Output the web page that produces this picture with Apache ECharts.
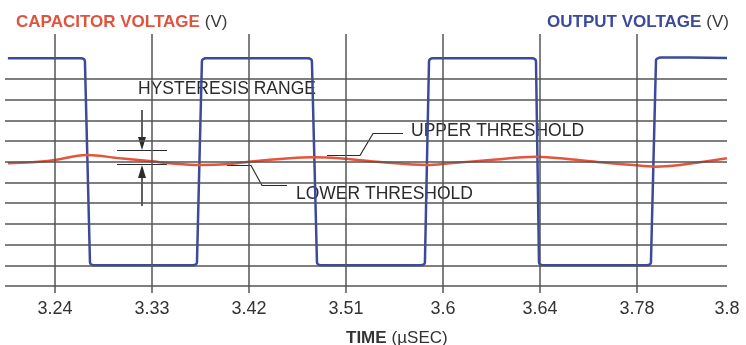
<!DOCTYPE html>
<html><head><meta charset="utf-8">
<script src="https://cdn.jsdelivr.net/npm/echarts@6/dist/echarts.min.js"></script>
<style>html,body{margin:0;padding:0;background:#fff}#c{width:746px;height:345px}</style>
</head><body><div id="c"></div>
<script>
// tick positions (index units) and labels
const tickPositions = [0, 1, 2, 3, 4, 5, 6, 6.928];
const tickLabels = ['3.24', '3.33', '3.42', '3.51', '3.6', '3.64', '3.78', '3.8'];
const gridLinePositions = [0, 1, 2, 3, 4, 5, 6];
const hLinePositions = [0, 1, 2, 3, 4, 5, 6, 7, 8, 9, 10];

// output voltage (V, arbitrary grid units)
const outputX = [-0.485, 0.268, 0.299, 0.309, 0.361, 0.371, 0.412,
  1.423, 1.454, 1.464, 1.515, 1.526, 1.557,
  2.608, 2.639, 2.649, 2.701, 2.711, 2.753,
  3.773, 3.804, 3.814, 3.856, 3.866, 3.897,
  4.918, 4.948, 4.959, 4.990, 5.000, 5.052,
  6.103, 6.134, 6.144, 6.196, 6.206, 6.247, 6.546, 6.928];
const outputY = [11, 11, 10.95, 10.85, 1.15, 1.05, 1,
  1, 1.05, 1.15, 10.85, 10.95, 11,
  11, 10.95, 10.85, 1.15, 1.05, 1,
  1, 1.05, 1.15, 10.85, 10.95, 11,
  11, 10.95, 10.85, 1.15, 1.05, 1,
  1, 1.05, 1.15, 10.9, 10.98, 11.04, 11.04, 11.01];

// capacitor voltage
const capX = [-0.485, -0.052, 0.330, 0.670, 1.000, 1.186, 1.495, 1.804, 2.000, 2.423, 2.649, 2.990,
  3.351, 3.835, 4.072, 4.485, 4.969, 5.309, 5.619, 5.928, 6.186, 6.443, 6.928];
const capY = [5.928, 6.053, 6.329, 6.169, 6.024, 5.928, 5.845, 5.894, 6.005, 6.169, 6.217, 6.150,
  5.990, 5.845, 5.928, 6.087, 6.246, 6.121, 5.976, 5.860, 5.763, 5.845, 6.169];

const zip = (a, b) => a.map((v, i) => [v, b[i]]);
const gridColor = '#555';
const font = '"Liberation Sans", Arial, sans-serif';

const chart = echarts.init(document.getElementById('c'), null, {renderer: 'canvas'});
chart.setOption({
  animation: false,
  textStyle: {fontFamily: font},
  title: [
    {left: 11, top: 8, text: '{a|CAPACITOR VOLTAGE} {b|(V)}',
     textStyle: {fontWeight: 'normal', rich: {
       a: {fontFamily: font, fontSize: 17, fontWeight: 'bold', color: '#e0533c'},
       b: {fontFamily: font, fontSize: 17, fontWeight: 'normal', color: '#3a3a3a'}}}},
    {right: 12, top: 8, text: '{a|OUTPUT VOLTAGE} {b|(V)}',
     textStyle: {fontWeight: 'normal', rich: {
       a: {fontFamily: font, fontSize: 17, fontWeight: 'bold', color: '#3b4a9c'},
       b: {fontFamily: font, fontSize: 17, fontWeight: 'normal', color: '#3a3a3a'}}}},
    {left: 341, top: 324, text: '{a|TIME} {b|(µSEC)}',
     textStyle: {fontWeight: 'normal', rich: {
       a: {fontFamily: font, fontSize: 17, fontWeight: 'bold', color: '#333'},
       b: {fontFamily: font, fontSize: 17, fontWeight: 'normal', color: '#333'}}}}
  ],
  grid: {left: 5, right: 19, top: 34, bottom: 59, containLabel: false, outerBoundsMode: 'none'},
  xAxis: {
    type: 'value', min: -0.515, max: 6.928,
    axisLine: {show: false},
    splitLine: {show: false},
    axisTick: {show: true, customValues: gridLinePositions, length: 7, lineStyle: {color: gridColor, width: 1.5}},
    axisLabel: {
      customValues: tickPositions, margin: 14, fontSize: 18, color: '#333', fontFamily: font,
      formatter: v => { const i = tickPositions.findIndex(p => Math.abs(p - v) < 1e-6); return i >= 0 ? tickLabels[i] : ''; }
    }
  },
  yAxis: {
    type: 'value', min: 0, max: 12.174,
    axisLine: {show: false}, axisTick: {show: false}, axisLabel: {show: false}, splitLine: {show: false}
  },
  series: [
    {
      type: 'line', data: [], silent: true,
      markLine: {
        silent: true, symbol: 'none', label: {show: false},
        lineStyle: {color: gridColor, width: 1.5, type: 'solid'},
        data: gridLinePositions.map(v => ({xAxis: v})).concat(hLinePositions.map(v => ({yAxis: v})))
      }
    },
    {
      name: 'Output', type: 'line', data: zip(outputX, outputY), showSymbol: false,
      lineStyle: {color: '#3b4a9c', width: 2.5}, smooth: 0.15
    },
    {
      name: 'Capacitor', type: 'line', data: zip(capX, capY), showSymbol: false,
      lineStyle: {color: '#e4553a', width: 2.5}, smooth: 0.35
    }
  ],
  graphic: [
    {type: 'text', left: 138, top: 80, style: {text: 'HYSTERESIS RANGE', font: '17.5px ' + font, fill: '#2b2b2b'}},
    {type: 'text', left: 411, top: 122, style: {text: 'UPPER THRESHOLD', font: '17.5px ' + font, fill: '#2b2b2b'}},
    {type: 'text', left: 296, top: 185, style: {text: 'LOWER THRESHOLD', font: '17.5px ' + font, fill: '#2b2b2b'}},
    {type: 'polyline', shape: {points: [[327, 155.5], [360, 155.5], [373, 133.5], [403, 133.5]]}, style: {stroke: '#2b2b2b', lineWidth: 1.2, fill: null}},
    {type: 'polyline', shape: {points: [[227, 165.5], [251, 165.5], [262, 185.5], [287, 185.5]]}, style: {stroke: '#2b2b2b', lineWidth: 1.2, fill: null}},
    {type: 'line', shape: {x1: 117, y1: 150.5, x2: 167, y2: 150.5}, style: {stroke: '#2b2b2b', lineWidth: 1.2}},
    {type: 'line', shape: {x1: 117, y1: 164.5, x2: 167, y2: 164.5}, style: {stroke: '#2b2b2b', lineWidth: 1.2}},
    {type: 'line', shape: {x1: 142, y1: 110, x2: 142, y2: 140}, style: {stroke: '#2b2b2b', lineWidth: 1.5}},
    {type: 'polygon', shape: {points: [[138, 137], [146, 137], [142, 150]]}, style: {fill: '#2b2b2b'}},
    {type: 'line', shape: {x1: 142, y1: 175, x2: 142, y2: 206}, style: {stroke: '#2b2b2b', lineWidth: 1.5}},
    {type: 'polygon', shape: {points: [[138, 178], [146, 178], [142, 165]]}, style: {fill: '#2b2b2b'}}
  ]
});
</script>
</body></html>
